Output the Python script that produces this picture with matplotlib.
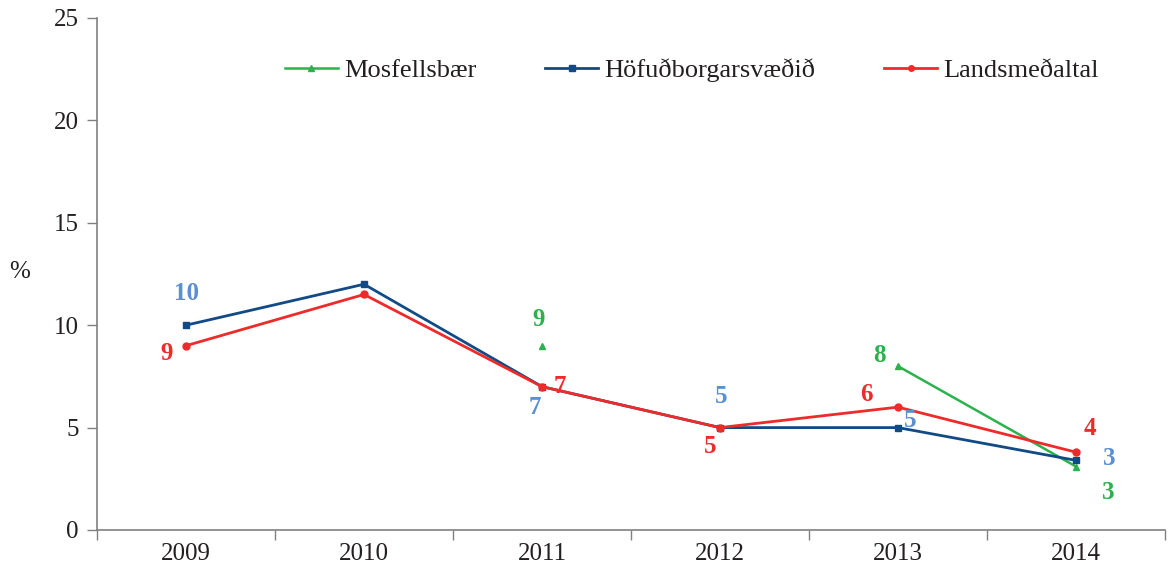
import numpy as np
import matplotlib
matplotlib.use("Agg")
import matplotlib.pyplot as plt
from matplotlib.ticker import FixedLocator

years = ["2009", "2010", "2011", "2012", "2013", "2014"]
mosfellsbaer = [np.nan, np.nan, 9.0, np.nan, 8.0, 3.1]
hofudborg = [10.0, 12.0, 7.0, 5.0, 5.0, 3.4]
landsmedaltal = [9.0, 11.5, 7.0, 5.0, 6.0, 3.8]

# data labels: (index, text)
labels_mos = [(2, "9"), (4, "8"), (5, "3")]
labels_hof = [(0, "10"), (2, "7"), (3, "5"), (4, "5"), (5, "3")]
labels_land = [(0, "9"), (2, "7"), (3, "5"), (4, "6"), (5, "4")]

# label offsets in pixels (styling)
off_mos = [(-3, 26), (-19, 11), (32, -26)]
off_hof = [(0, 32), (-7, -21), (1, 31), (12, 7), (33, 2)]
off_land = [(-19, -8), (18, 0), (-10, -19), (-32, 13), (14, 24)]

GREEN = "#2bb24c"
NAVY = "#124a86"
RED = "#ee2b2b"
LBLUE = "#5b8fd2"
AX = "#808080"
TXT = "#231f20"

plt.rcParams["font.family"] = ["Liberation Serif", "DejaVu Serif"]

fig = plt.figure(figsize=(11.68, 5.75), dpi=100)
ax = fig.add_axes([97/1168, 1-530/575, 1068/1168, 512/575])

x = np.arange(len(years))
ax.plot(x, mosfellsbaer, color=GREEN, marker="^", markersize=5, lw=1.8, label="Mosfellsbær")
ax.plot(x, hofudborg, color=NAVY, marker="s", markersize=5, lw=2.0, label="Höfuðborgarsvæðið")
ax.plot(x, landsmedaltal, color=RED, marker="o", markersize=5, lw=2.0, label="Landsmeðaltal")

def put(series, labs, offs, color):
    for (i, t), (dx, dy) in zip(labs, offs):
        ax.annotate(t, (x[i], series[i]), xytext=(dx, dy), textcoords="offset pixels",
                    ha="center", va="center", fontsize=18, fontweight="bold", color=color)

put(mosfellsbaer, labels_mos, off_mos, GREEN)
put(hofudborg, labels_hof, off_hof, LBLUE)
put(landsmedaltal, labels_land, off_land, RED)

ax.set_xlim(-0.5, 5.5)
ax.set_ylim(0, 25)
ax.set_yticks([0, 5, 10, 15, 20, 25])
ax.set_xticks(x)
ax.set_xticklabels(years)
ax.xaxis.set_minor_locator(FixedLocator(np.arange(-0.5, 6.0, 1.0)))
ax.tick_params(axis="x", which="major", length=0, pad=9, labelsize=18, labelcolor=TXT)
ax.tick_params(axis="x", which="minor", length=7, width=1, color=AX, direction="out")
ax.tick_params(axis="y", length=7, width=1, color=AX, direction="out", pad=6, labelsize=18, labelcolor=TXT)

for s in ["top", "right"]:
    ax.spines[s].set_visible(False)
for s in ["left", "bottom"]:
    ax.spines[s].set_color(AX)
    ax.spines[s].set_linewidth(1.2)

fig.text(20/1168, 1-272/575, "%", fontsize=18, color=TXT, ha="center", va="center")

ax.legend(ncol=3, loc="center", bbox_to_anchor=(0.557, 0.898), frameon=False,
          fontsize=19, handlelength=2.0, handletextpad=0.25, columnspacing=2.6,
          labelcolor=TXT, markerscale=0.8)

fig.savefig("out.png", dpi=100)
